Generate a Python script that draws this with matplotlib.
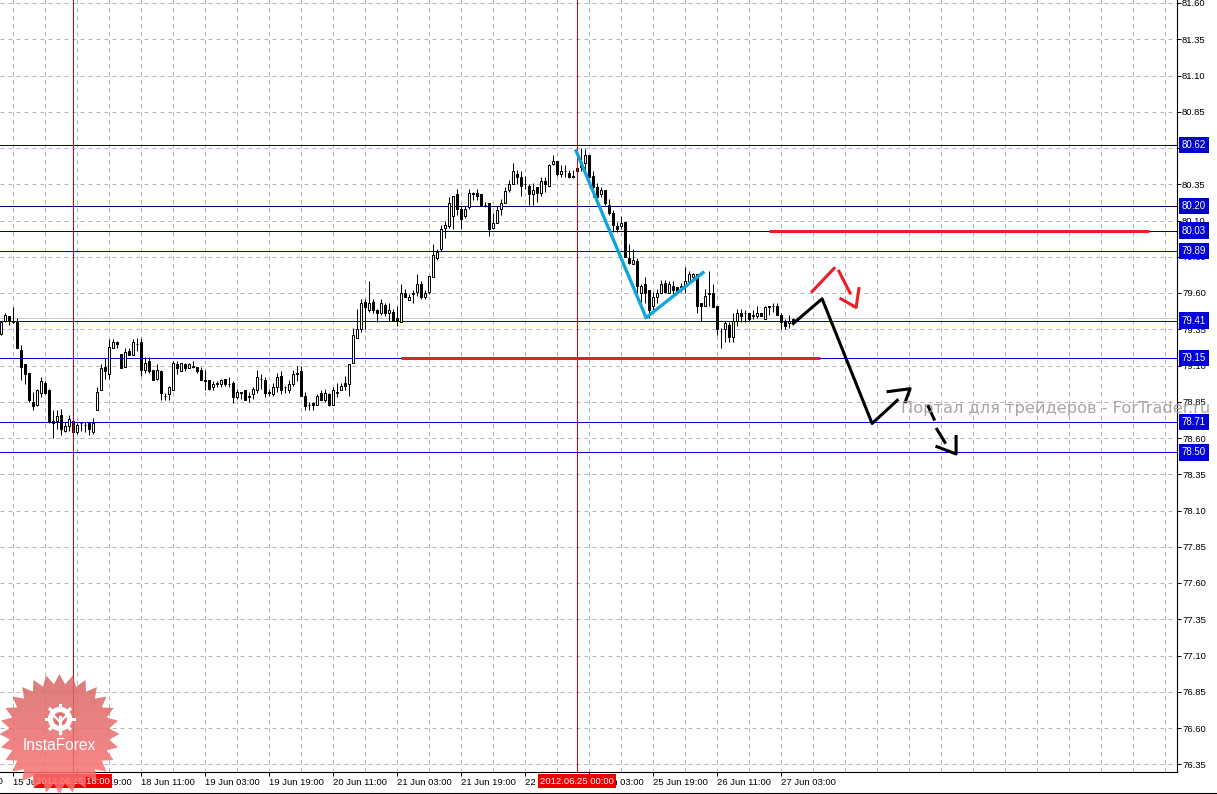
import numpy as np
import matplotlib
matplotlib.use('Agg')
import matplotlib.pyplot as plt
from matplotlib.lines import Line2D
from matplotlib.patches import Polygon, Circle, Wedge

plt.rcParams['font.family'] = ['Liberation Sans', 'DejaVu Sans']

# hourly candles
opens = [79.32,79.41,79.44,79.41,79.40,79.21,79.11,79.05,78.85,78.83,78.91,78.98,78.93,78.72,78.72,78.76,78.65,78.68,78.72,78.64,78.70,78.69,78.70,78.64,78.79,78.93,79.09,79.04,79.22,79.26,79.18,79.09,79.20,79.17,79.25,79.26,79.07,79.13,79.07,79.01,79.06,78.89,78.90,78.93,79.11,79.06,79.11,79.08,79.10,79.09,
         79.07,79.00,79.00,78.95,78.97,78.97,79.01,78.97,78.98,78.88,78.92,78.93,78.89,78.90,78.93,79.01,79.00,78.92,78.90,78.95,79.03,78.95,78.93,78.97,79.05,79.06,78.89,78.83,78.84,78.83,78.91,78.86,78.90,78.83,78.92,78.93,78.98,78.97,79.12,79.29,79.35,79.54,79.48,79.54,79.48,79.46,79.52,79.46,79.47,79.43,
         79.40,79.60,79.55,79.59,79.61,79.66,79.57,79.61,79.71,79.84,79.90,80.05,80.06,80.13,80.28,80.18,80.13,80.19,80.29,80.29,80.28,80.21,80.22,80.05,80.08,80.18,80.22,80.31,80.35,80.42,80.40,80.35,80.34,80.28,80.33,80.29,80.37,80.34,80.49,80.51,80.42,80.44,80.43,80.40,80.46,80.47,80.50,80.55,80.41,80.33,
         80.28,80.31,80.21,80.15,80.06,80.06,80.09,79.84,79.80,79.82,79.60,79.66,79.62,79.51,79.57,79.60,79.67,79.60,79.65,79.64,79.65,79.65,79.68,79.71,79.73,79.53,79.51,79.60,79.60,79.51,79.34,79.35,79.38,79.30,79.41,79.46,79.46,79.46,79.45,79.44,79.46,79.42,79.51,79.51,79.51,79.45,79.41,79.39,79.42]
highs = [79.41,79.46,79.44,79.50,79.43,79.24,79.11,79.05,78.92,78.94,79.02,78.99,78.94,78.79,78.79,78.80,78.71,78.76,78.74,78.70,78.71,78.71,78.71,78.74,78.95,79.11,79.15,79.28,79.28,79.27,79.18,79.22,79.22,79.28,79.29,79.29,79.16,79.16,79.07,79.11,79.07,78.91,78.96,79.13,79.13,79.12,79.12,79.12,79.13,79.09,
         79.09,79.07,79.00,78.99,78.99,79.01,79.01,79.02,78.99,78.94,78.92,78.93,78.92,78.95,79.07,79.04,79.02,78.94,78.98,79.05,79.06,78.96,79.00,79.07,79.10,79.10,78.92,78.85,78.85,78.90,78.93,78.94,78.91,78.95,78.98,78.98,79.03,79.11,79.36,79.49,79.56,79.56,79.68,79.56,79.49,79.56,79.53,79.53,79.49,79.51,
         79.66,79.63,79.59,79.62,79.73,79.68,79.62,79.72,79.94,79.90,80.07,80.10,80.26,80.27,80.32,80.20,80.20,80.32,80.30,80.32,80.28,80.23,80.22,80.15,80.20,80.25,80.33,80.38,80.50,80.45,80.44,80.41,80.35,80.36,80.33,80.40,80.40,80.49,80.55,80.51,80.48,80.48,80.45,80.45,80.49,80.60,80.59,80.55,80.44,80.36,
         80.33,80.31,80.25,80.17,80.09,80.13,80.09,79.94,79.90,79.84,79.66,79.71,79.62,79.61,79.63,79.69,79.69,79.68,79.68,79.64,79.67,79.78,79.75,79.74,79.73,79.53,79.63,79.75,79.66,79.51,79.36,79.41,79.40,79.46,79.49,79.49,79.48,79.46,79.48,79.51,79.46,79.51,79.51,79.53,79.53,79.46,79.42,79.45,79.43]
lows = [79.31,79.40,79.38,79.39,79.22,79.00,78.97,78.85,78.79,78.82,78.88,78.90,78.70,78.60,78.66,78.62,78.64,78.65,78.64,78.63,78.65,78.64,78.62,78.63,78.79,78.93,79.01,79.01,79.22,79.22,79.08,79.09,79.17,79.17,79.20,79.03,79.05,79.05,79.00,79.00,78.86,78.86,78.86,78.93,79.04,79.06,79.06,79.08,79.08,79.05,
        79.00,78.93,78.93,78.93,78.95,78.95,78.96,78.95,78.84,78.87,78.87,78.86,78.85,78.87,78.91,78.94,78.88,78.89,78.89,78.92,78.90,78.91,78.91,78.96,78.99,78.89,78.79,78.79,78.79,78.83,78.86,78.85,78.82,78.83,78.88,78.93,78.93,78.89,79.12,79.29,79.33,79.35,79.47,79.46,79.40,79.45,79.44,79.41,79.41,79.37,
        79.40,79.57,79.55,79.53,79.58,79.56,79.56,79.59,79.71,79.83,79.89,79.98,80.05,80.04,80.14,80.04,80.12,80.18,80.24,80.24,80.20,80.19,79.99,80.04,80.08,80.14,80.22,80.30,80.35,80.35,80.27,80.32,80.21,80.21,80.23,80.27,80.30,80.34,80.48,80.41,80.40,80.40,80.39,80.39,80.42,80.44,80.43,80.40,80.26,80.25,
        80.26,80.21,80.14,80.02,80.02,80.04,79.85,79.80,79.80,79.55,79.54,79.53,79.43,79.46,79.53,79.60,79.60,79.60,79.58,79.59,79.61,79.60,79.66,79.69,79.46,79.41,79.51,79.51,79.50,79.31,79.22,79.26,79.26,79.26,79.37,79.40,79.40,79.41,79.42,79.43,79.44,79.42,79.45,79.47,79.45,79.35,79.35,79.36,79.38]
closes = [79.40,79.45,79.41,79.40,79.22,79.09,79.04,78.86,78.82,78.93,78.99,78.91,78.71,78.70,78.75,78.66,78.68,78.73,78.64,78.69,78.70,78.69,78.66,78.70,78.92,79.08,79.06,79.23,79.26,79.25,79.08,79.19,79.17,79.26,79.25,79.07,79.12,79.06,79.00,79.07,78.91,78.89,78.95,79.12,79.08,79.12,79.08,79.11,79.09,79.06,
          79.00,78.99,78.94,78.97,78.98,79.00,78.97,78.97,78.88,78.92,78.91,78.86,78.88,78.94,79.02,79.01,78.91,78.91,78.95,79.02,78.93,78.95,78.97,79.04,79.04,78.89,78.82,78.83,78.83,78.89,78.86,78.91,78.83,78.93,78.91,78.96,78.96,79.11,79.31,79.35,79.53,79.50,79.53,79.48,79.46,79.53,79.46,79.48,79.41,79.41,
          79.60,79.57,79.57,79.60,79.66,79.57,79.60,79.72,79.86,79.88,80.04,80.07,80.22,80.27,80.18,80.11,80.18,80.29,80.28,80.27,80.21,80.21,80.04,80.08,80.17,80.22,80.30,80.35,80.44,80.40,80.34,80.35,80.28,80.31,80.29,80.37,80.35,80.48,80.51,80.42,80.44,80.44,80.40,80.41,80.44,80.50,80.55,80.40,80.33,80.26,
          80.31,80.22,80.15,80.07,80.04,80.08,79.85,79.81,79.83,79.65,79.65,79.60,79.48,79.57,79.60,79.66,79.61,79.66,79.62,79.61,79.64,79.68,79.73,79.73,79.51,79.51,79.58,79.59,79.50,79.35,79.34,79.39,79.30,79.41,79.46,79.44,79.46,79.42,79.44,79.46,79.44,79.50,79.50,79.51,79.45,79.40,79.37,79.41,79.40]

price_ticks = [81.60,81.35,81.10,80.85,80.60,80.35,80.10,79.85,79.60,79.35,79.10,78.85,78.60,78.35,78.10,77.85,77.60,77.35,77.10,76.85,76.60,76.35]
levels_dark = [80.62, 80.20, 80.03]
levels_blue = [79.89, 79.41, 79.15, 78.71, 78.50]
bid_line = 79.43

time_tick_pos = [3,19,35,51,67,83,99,115,131,147,163,179,195]
time_labels = ['15 Jun 03:00','15 Jun 19:00','18 Jun 11:00','19 Jun 03:00','19 Jun 19:00','20 Jun 11:00',
               '21 Jun 03:00','21 Jun 19:00','22 Jun 11:00','25 Jun 03:00','25 Jun 19:00','26 Jun 11:00','27 Jun 03:00']
cursor_pos = [18, 144]
cursor_labels = ['2012.06.15 18:00', '2012.06.25 00:00']

# hand drawn lines: bar number / price
red_h1 = ([191.9, 287.0], [80.03, 80.03])
red_h2 = ([100.0, 204.7], [79.15, 79.15])
blue_x = [143.7, 161.2, 175.4]
blue_y = [80.58, 79.43, 79.74]
black_x = [198.0, 205.2, 217.7, 224.0]
black_y = [79.39, 79.56, 78.70, 78.86]
black_head_x = [221.7, 227.2, 226.0]
black_head_y = [78.92, 78.94, 78.85]
black_dash1_x = [231.7, 233.2]
black_dash1_y = [78.82, 78.73]
black_dash2_x = [233.9, 235.9]
black_dash2_y = [78.66, 78.57]
black_head2_x = [233.9, 238.7, 238.7]
black_head2_y = [78.54, 78.49, 78.61]
red_x = [202.7, 208.2]
red_y = [79.61, 79.77]
red2_x = [209.4, 212.2]
red2_y = [79.75, 79.60]
red_head_x = [209.9, 213.7, 214.4]
red_head_y = [79.56, 79.50, 79.63]


def price_of(px):
    return 81.60 - (px - 3) / 145.0


fig = plt.figure(figsize=(12.17, 7.94), dpi=100)
ax = fig.add_axes([0, 22 / 794, 1176.5 / 1217, 772 / 794])
xs = np.arange(len(opens))

ax.set_xlim(-0.325, 293.8)
ax.set_ylim(price_of(772), price_of(0))

# grid first
ax.set_xticks(time_tick_pos)
ax.set_xticklabels(time_labels, ha='left', fontsize=6.8)
ax.set_xticks(np.arange(3, 293, 8), minor=True)
ax.set_yticks(price_ticks)
ax.set_yticklabels(['%.2f' % p for p in price_ticks], fontsize=6.8)
ax.yaxis.tick_right()
ax.tick_params(axis='x', which='major', length=3, width=0.72, pad=1)
ax.tick_params(axis='x', which='minor', length=0)
ax.tick_params(axis='y', length=3, width=0.72, pad=1)
ax.grid(True, which='both', color='#b8b4b4', lw=0.72, ls=(0, (4, 4)))
ax.set_axisbelow(True)
ax.spines['top'].set_visible(False)
ax.spines['left'].set_visible(False)

# candles
ax.vlines(xs, lows, highs, color='black', lw=0.72, zorder=3)
for i in xs:
    top = max(opens[i], closes[i])
    bot = min(opens[i], closes[i])
    face = 'white' if closes[i] >= opens[i] else 'black'
    ax.bar(i, top - bot, bottom=bot, width=0.5, facecolor=face, edgecolor='black',
           lw=0.72, zorder=3)

ax.axhline(bid_line, color='#c8c8c8', lw=0.72, zorder=2)
for lev in levels_dark:
    ax.axhline(lev, color='#00006e', lw=0.72, zorder=2.5)
for lev in levels_blue:
    ax.axhline(lev, color='#0000dd', lw=0.72, zorder=2.5)
for lev in levels_dark + levels_blue:
    ax.text(1.0045, lev, '%.2f' % lev, transform=ax.get_yaxis_transform(), color='white', fontsize=7.0,
            va='center', ha='left', zorder=6, clip_on=False,
            bbox=dict(fc='#0000dd' if lev in levels_blue else '#0000cc', ec='none', pad=2.3))

for x, lab in zip(cursor_pos, cursor_labels):
    ax.axvline(x, color='#dd0000', lw=0.72, zorder=4)
    ax.text(x, -9 / 772, lab, transform=ax.get_xaxis_transform(), color='white', fontsize=6.8,
            ha='center', va='center', zorder=6, clip_on=False,
            bbox=dict(fc='#ee0000', ec='none', pad=1.5))

ax.text(-13, -9 / 772, '14 Jun 11:00', transform=ax.get_xaxis_transform(), fontsize=6.8,
        ha='left', va='center', clip_on=False)

# drawn on top of the chart
ax.plot(*red_h1, color='#ee1c24', lw=2.2, zorder=5, solid_capstyle='butt')
ax.plot(*red_h2, color='#ee1c24', lw=2.2, zorder=5, solid_capstyle='butt')
ax.plot(blue_x, blue_y, color='#12a4dc', lw=2.4, zorder=5)
for lx, ly in [(black_x, black_y), (black_head_x, black_head_y), (black_dash1_x, black_dash1_y),
               (black_dash2_x, black_dash2_y), (black_head2_x, black_head2_y)]:
    ax.plot(lx, ly, color='black', lw=2.2, zorder=5)
for lx, ly in [(red_x, red_y), (red2_x, red2_y), (red_head_x, red_head_y)]:
    ax.plot(lx, ly, color='#ee1c24', lw=2.2, zorder=5)

# overlay in pixels for the watermark and the logo
ov = fig.add_axes([0, 0, 1, 1], zorder=10)
ov.set_xlim(0, 1217)
ov.set_ylim(794, 0)
ov.axis('off')
ov.patch.set_alpha(0)

ov.text(901, 408, 'Портал для трейдеров - ForTrader.ru', color='#a89a9a', alpha=0.9, fontsize=11.7,
        family=['DejaVu Sans'], va='center', ha='left')

n_spikes = 28
ang = np.linspace(0, 2 * np.pi, 2 * n_spikes, endpoint=False)
rad = np.where(np.arange(2 * n_spikes) % 2 == 0, 60, 50)
star = Polygon(np.column_stack([59.5 + rad * np.cos(ang), 734 + rad * np.sin(ang)]), closed=True,
               fc='none', ec='none', transform=ov.transData)
ov.add_patch(star)
shade = np.linspace(0, 1, 64).reshape(-1, 1)
rgba = np.zeros((64, 1, 4))
rgba[..., 0] = 0.84 + 0.16 * shade
rgba[..., 1] = 0.40 + 0.05 * shade
rgba[..., 2] = 0.40 + 0.05 * shade
rgba[..., 3] = 0.85
im = ov.imshow(rgba, extent=[0, 120, 794, 674], aspect='auto', zorder=1, interpolation='bilinear')
im.set_clip_path(star)
ov.set_xlim(0, 1217)
ov.set_ylim(794, 0)

# gear of the logo
ov.add_patch(Wedge((60, 719), 12, 0, 360, width=5, fc='white', ec='none', zorder=2))
for a in np.arange(0, 360, 45):
    ca, sa = np.cos(np.radians(a)), np.sin(np.radians(a))
    ov.plot([60 + 10 * ca, 60 + 14 * ca], [719 + 10 * sa, 719 + 14 * sa], color='white', lw=2.2, zorder=2)
ov.add_patch(Circle((60, 719), 5.5, fc='#e56b6b', ec='none', zorder=2.5))
ov.plot([60, 60], [717, 733], color='white', lw=2.4, zorder=3)
ov.plot([53, 60, 67], [715, 722, 715], color='white', lw=1.6, zorder=3)
ov.text(59.5, 746, 'InstaForex', color='white', fontsize=11.2, ha='center', va='center', zorder=3,
        family=['Liberation Sans'])

fig.add_artist(Line2D([0, 1], [1.5 / 794, 1.5 / 794], color='black', lw=0.8))

fig.savefig('out.png', dpi=100)
